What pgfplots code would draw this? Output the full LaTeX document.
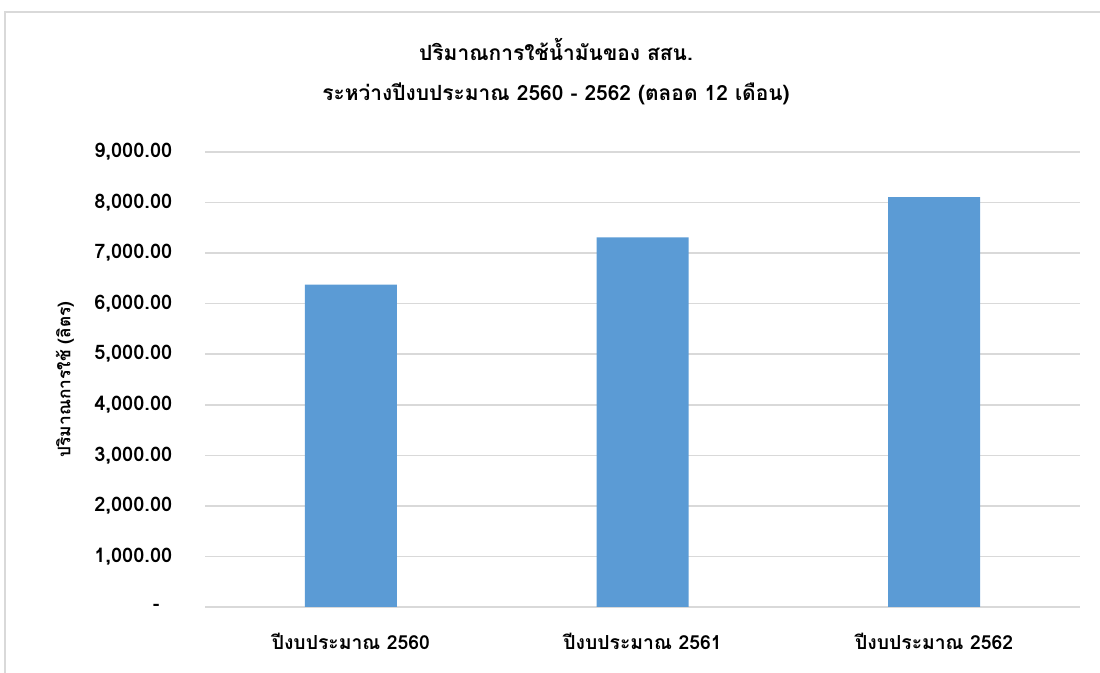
\documentclass[border=0pt]{standalone}
\usepackage{fontspec}
\setmainfont[Script=Thai]{Loma}
\usepackage{pgfplots}
\pgfplotsset{compat=1.18}
\definecolor{barblue}{HTML}{5B9BD5}
\definecolor{gridgray}{HTML}{D9D9D9}
\begin{document}
\begin{tikzpicture}
\useasboundingbox (0,0) rectangle (825pt,504.75pt);
\draw[gridgray, line width=1.1pt] (3.75pt,0) -- (3.75pt,495.75pt) -- (825pt,495.75pt);
\node[font=\bfseries\fontsize{15.7}{18}\selectfont, anchor=base] at (417pt,459pt) {ปริมาณการใช้น้ำมันของ สสน.};
\node[font=\bfseries\fontsize{15.7}{18}\selectfont, anchor=base] at (417pt,429pt) {ระหว่างปีงบประมาณ 2560 - 2562 (ตลอด 12 เดือน)};
\begin{axis}[
  at={(153.75pt,49.5pt)}, anchor=south west,
  scale only axis, width=656.25pt, height=341.25pt,
  xmin=-0.5, xmax=2.5, ymin=0, ymax=9000,
  axis line style={draw=none},
  major tick length=0pt,
  ymajorgrids, grid style={gridgray, line width=1.1pt},
  xtick={0,1,2},
  xticklabels={ปีงบประมาณ 2560, ปีงบประมาณ 2561, ปีงบประมาณ 2562},
  ytick={0,1000,...,9000},
  yticklabels={{-\makebox[9.5pt]{}},{1,000.00},{2,000.00},{3,000.00},{4,000.00},{5,000.00},{6,000.00},{7,000.00},{8,000.00},{9,000.00}},
  yticklabel style={font=\bfseries\fontsize{15}{17}\selectfont, anchor=east, xshift=-21pt},
  xticklabel style={font=\bfseries\fontsize{14.5}{17}\selectfont, anchor=base, yshift=-32pt},
  ylabel={ปริมาณการใช้ (ลิตร)},
  ylabel style={font=\bfseries\fontsize{13}{15}\selectfont, at={(axis description cs:-0.16,0.5)}, anchor=center},
  clip=false,
]
\addplot[ybar, bar width=69pt, fill=barblue, draw=none] coordinates {(0,6376) (1,7312) (2,8105)};
\end{axis}
\end{tikzpicture}
\end{document}
